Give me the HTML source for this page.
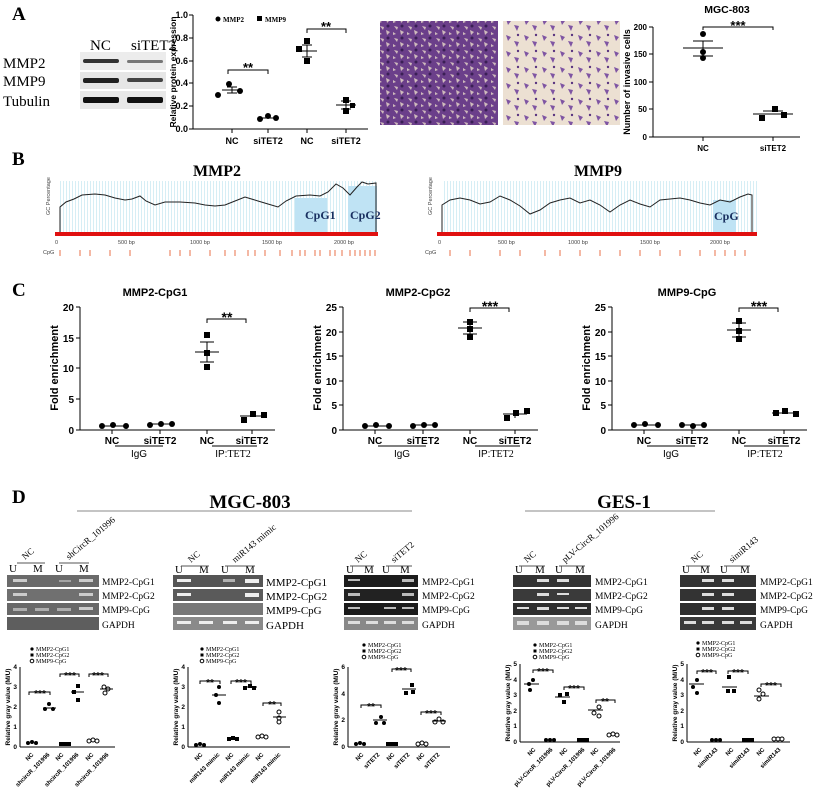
<!DOCTYPE html>
<html><head><meta charset="utf-8"><style>
html,body{margin:0;padding:0;background:#fff;}
svg{display:block;font-family:"Liberation Sans",sans-serif;}
.s{font-family:"Liberation Serif",serif;}
.b{font-weight:bold;}
</style></head><body>
<svg width="824" height="794" viewBox="0 0 824 794" xmlns="http://www.w3.org/2000/svg">
<defs>
<pattern id="cells1" width="14" height="12" patternUnits="userSpaceOnUse">
<rect width="14" height="12" fill="#6b3f8a"/>
<path d="M2 2l4 1-1 3zM8 6l4 2-3 3zM1 8l3 2-3 1z" fill="#e8d9c8" opacity=".8"/>
<circle cx="10" cy="2" r="1.5" fill="#3a1f55"/>
</pattern>
<pattern id="cells2" width="18" height="16" patternUnits="userSpaceOnUse">
<rect width="18" height="16" fill="#ece0d2"/>
<path d="M2 3l5 2-3 4zM10 9l5 1-2 5z" fill="#7f55a3"/>
<circle cx="14" cy="3" r="1.2" fill="#5a3580"/>
</pattern>
<pattern id="vl" width="3" height="10" patternUnits="userSpaceOnUse"><rect width="3" height="10" fill="#fff"/><rect width="1" height="10" fill="#d6eef5"/></pattern>
</defs>

<!-- ===== A ===== -->
<text x="12" y="20" class="s b" font-size="19">A</text>
<text x="90" y="50" class="s" font-size="15">NC</text>
<text x="131" y="50" class="s" font-size="15">siTET2</text>
<text x="3" y="68" class="s" font-size="15">MMP2</text>
<text x="3" y="86" class="s" font-size="15">MMP9</text>
<text x="3" y="106" class="s" font-size="15">Tubulin</text>
<rect x="80" y="52" width="86" height="18" fill="#ececec"/>
<rect x="80" y="72" width="86" height="17" fill="#e6e6e6"/>
<rect x="80" y="91" width="86" height="18" fill="#e8e8e8"/>
<rect x="83" y="59" width="36" height="4" rx="2" fill="#333"/><rect x="127" y="60" width="36" height="3" rx="1.5" fill="#777"/>
<rect x="83" y="78" width="36" height="5" rx="2" fill="#222"/><rect x="127" y="78" width="36" height="4" rx="2" fill="#444"/>
<rect x="83" y="97" width="36" height="6" rx="2" fill="#111"/><rect x="127" y="97" width="36" height="6" rx="2" fill="#111"/>

<!-- A chart -->
<g font-size="9" class="b">
<line x1="193" y1="15" x2="193" y2="129" stroke="#000"/>
<line x1="193" y1="129" x2="368" y2="129" stroke="#000"/>
<g stroke="#000"><line x1="189" y1="15" x2="193" y2="15"/><line x1="189" y1="38" x2="193" y2="38"/><line x1="189" y1="61" x2="193" y2="61"/><line x1="189" y1="83" x2="193" y2="83"/><line x1="189" y1="106" x2="193" y2="106"/><line x1="189" y1="129" x2="193" y2="129"/>
<line x1="232" y1="129" x2="232" y2="133"/><line x1="268" y1="129" x2="268" y2="133"/><line x1="307" y1="129" x2="307" y2="133"/><line x1="346" y1="129" x2="346" y2="133"/></g>
<g text-anchor="end"><text x="188" y="18">1.0</text><text x="188" y="41">0.8</text><text x="188" y="64">0.6</text><text x="188" y="86">0.4</text><text x="188" y="109">0.2</text><text x="188" y="132">0.0</text></g>
<g text-anchor="middle"><text x="232" y="144">NC</text><text x="268" y="144">siTET2</text><text x="307" y="144">NC</text><text x="346" y="144">siTET2</text></g>
<text transform="translate(176,72) rotate(-90)" text-anchor="middle" font-size="8.5">Relative protein expression</text>
</g>
<circle cx="218" cy="19" r="2.5"/><text x="223" y="22" class="s b" font-size="7">MMP2</text>
<rect x="257" y="16" width="5" height="5"/><text x="265" y="22" class="s b" font-size="7">MMP9</text>
<circle cx="218" cy="95" r="3"/><circle cx="229" cy="84" r="3"/><circle cx="240" cy="91" r="3"/>
<g stroke="#000" fill="none"><line x1="222" y1="90" x2="242" y2="90"/><line x1="232" y1="87" x2="232" y2="93"/><line x1="227" y1="87" x2="237" y2="87"/><line x1="227" y1="93" x2="237" y2="93"/>
<line x1="258" y1="118" x2="278" y2="118"/>
<line x1="297" y1="51" x2="317" y2="51"/><line x1="307" y1="45" x2="307" y2="57"/><line x1="302" y1="45" x2="312" y2="45"/><line x1="302" y1="57" x2="312" y2="57"/>
<line x1="336" y1="105" x2="356" y2="105"/><line x1="346" y1="101" x2="346" y2="109"/><line x1="341" y1="101" x2="351" y2="101"/><line x1="341" y1="109" x2="351" y2="109"/>
<path d="M228 74V70H268V74"/><path d="M307 33V29H346V33"/></g>
<circle cx="260" cy="119" r="3"/><circle cx="268" cy="116" r="3"/><circle cx="276" cy="118" r="3"/>
<rect x="304" y="38" width="6" height="6"/><rect x="304" y="58" width="6" height="6"/><rect x="296" y="46" width="6" height="6"/>
<rect x="343" y="97" width="6" height="6"/><rect x="343" y="108" width="6" height="6"/><rect x="350" y="103" width="5" height="5"/>
<text x="248" y="72" text-anchor="middle" font-size="13" class="b">**</text>
<text x="326" y="31" text-anchor="middle" font-size="13" class="b">**</text>

<!-- micrographs -->
<rect x="380" y="21" width="118" height="104" fill="url(#cells1)"/>
<rect x="503" y="21" width="117" height="104" fill="url(#cells2)"/>

<!-- right chart -->
<text x="727" y="13" text-anchor="middle" font-size="10.5" class="b">MGC-803</text>
<g font-size="8" class="b">
<line x1="653" y1="27" x2="653" y2="137" stroke="#000"/><line x1="653" y1="137" x2="800" y2="137" stroke="#000"/>
<g stroke="#000"><line x1="649" y1="27" x2="653" y2="27"/><line x1="649" y1="54" x2="653" y2="54"/><line x1="649" y1="82" x2="653" y2="82"/><line x1="649" y1="109" x2="653" y2="109"/><line x1="649" y1="137" x2="653" y2="137"/><line x1="703" y1="137" x2="703" y2="141"/><line x1="773" y1="137" x2="773" y2="141"/></g>
<g text-anchor="end"><text x="647" y="30">200</text><text x="647" y="57">150</text><text x="647" y="85">100</text><text x="647" y="112">50</text><text x="647" y="140">0</text></g>
<text x="703" y="151" text-anchor="middle">NC</text><text x="773" y="151" text-anchor="middle">siTET2</text>
<text transform="translate(630,82) rotate(-90)" text-anchor="middle" font-size="9">Number of invasive cells</text>
</g>
<g stroke="#000" fill="none"><path d="M703 30V27H773V30"/><line x1="683" y1="48" x2="723" y2="48"/><line x1="703" y1="41" x2="703" y2="56"/><line x1="693" y1="41" x2="713" y2="41"/><line x1="693" y1="56" x2="713" y2="56"/>
<line x1="753" y1="114" x2="793" y2="114"/><line x1="763" y1="111" x2="783" y2="111"/></g>
<text x="738" y="30" text-anchor="middle" font-size="13" class="b">***</text>
<circle cx="703" cy="34" r="3"/><circle cx="703" cy="52" r="3"/><circle cx="703" cy="58" r="3"/>
<rect x="759" y="115" width="6" height="6"/><rect x="772" y="106" width="6" height="6"/><rect x="781" y="112" width="6" height="6"/>

<!-- ===== B ===== -->
<text x="12" y="165" class="s b" font-size="19">B</text>
<text x="217" y="176" text-anchor="middle" class="s b" font-size="16">MMP2</text>
<text x="598" y="176" text-anchor="middle" class="s b" font-size="16">MMP9</text>
<g font-size="5.5" fill="#444">
<rect x="60" y="181" width="317" height="52" fill="url(#vl)"/>
<rect x="295" y="198" width="32" height="35" fill="#bfe3f4"/><rect x="348" y="186" width="29" height="47" fill="#bfe3f4"/>
<polyline fill="none" stroke="#222" stroke-width="1" points="60,233 60,207 66,202 74,199 82,195 95,194 105,195 115,198 125,200 132,199 140,196 146,201 155,205 165,202 180,202 195,203 205,205 215,206 225,205 235,201 245,197 258,201 268,204 278,207 286,201 296,196 310,195 320,196 328,192 336,184 343,188 350,195 357,187 362,182 368,184 376,183 376,233"/>
<text x="305" y="219" class="s b" font-size="12" fill="#1a3060">CpG1</text><text x="350" y="219" class="s b" font-size="12" fill="#1a3060">CpG2</text>
<rect x="55" y="232" width="323" height="4" fill="#e01010"/>
<text x="55" y="244">0</text><text x="118" y="244">500 bp</text><text x="190" y="244">1000 bp</text><text x="262" y="244">1500 bp</text><text x="334" y="244">2000 bp</text>
<text x="43" y="254">CpG</text>
<path d="M60 250v6M80 250v6M90 250v6M110 250v6M130 250v6M170 250v6M180 250v6M190 250v6M210 250v6M225 250v6M235 250v6M248 250v6M255 250v6M265 250v6M280 250v6M292 250v6M300 250v6M305 250v6M315 250v6M320 250v6M330 250v6M335 250v6M342 250v6M350 250v6M355 250v6M360 250v6M365 250v6M370 250v6M375 250v6" stroke="#e8704a" stroke-width="1"/>
<text transform="translate(50,215) rotate(-90)" font-size="5.5">GC Percentage</text>

<rect x="442" y="181" width="316" height="52" fill="url(#vl)"/>
<rect x="713" y="200" width="23" height="33" fill="#bfe3f4"/>
<polyline fill="none" stroke="#222" stroke-width="1" points="442,233 442,205 450,200 460,198 470,200 480,204 490,202 500,196 510,200 520,206 530,214 540,210 550,203 560,200 570,198 580,203 590,200 600,205 610,212 620,205 630,200 640,204 650,207 660,200 670,199 680,198 690,200 700,203 710,205 720,200 730,202 740,197 748,194 752,195 752,233"/>
<text x="714" y="220" class="s b" font-size="12" fill="#1a3060">CpG</text>
<rect x="437" y="232" width="320" height="4" fill="#e01010"/>
<text x="438" y="244">0</text><text x="498" y="244">500 bp</text><text x="568" y="244">1000 bp</text><text x="640" y="244">1500 bp</text><text x="710" y="244">2000 bp</text>
<text x="425" y="254">CpG</text>
<path d="M450 250v6M470 250v6M500 250v6M520 250v6M545 250v6M560 250v6M580 250v6M600 250v6M620 250v6M640 250v6M660 250v6M680 250v6M700 250v6M715 250v6M725 250v6M735 250v6M745 250v6" stroke="#e8704a" stroke-width="1"/>
<text transform="translate(432,215) rotate(-90)" font-size="5.5">GC Percentage</text>
</g>

<!-- ===== C ===== -->
<text x="12" y="296" class="s b" font-size="19">C</text>
<g font-size="10" class="b">
<text x="155" y="296" text-anchor="middle" font-size="11">MMP2-CpG1</text>
<line x1="80" y1="307" x2="80" y2="430" stroke="#000"/><line x1="80" y1="430" x2="275" y2="430" stroke="#000"/>
<g stroke="#000"><line x1="76" y1="307" x2="80" y2="307"/><line x1="76" y1="338" x2="80" y2="338"/><line x1="76" y1="368" x2="80" y2="368"/><line x1="76" y1="399" x2="80" y2="399"/><line x1="76" y1="430" x2="80" y2="430"/>
<line x1="112" y1="430" x2="112" y2="434"/><line x1="160" y1="430" x2="160" y2="434"/><line x1="207" y1="430" x2="207" y2="434"/><line x1="252" y1="430" x2="252" y2="434"/>
<line x1="115" y1="446" x2="163" y2="446"/><line x1="212" y1="446" x2="257" y2="446"/></g>
<g text-anchor="end"><text x="74" y="311">20</text><text x="74" y="342">15</text><text x="74" y="372">10</text><text x="74" y="403">5</text><text x="74" y="434">0</text></g>
<g text-anchor="middle"><text x="112" y="444">NC</text><text x="160" y="444">siTET2</text><text x="207" y="444">NC</text><text x="252" y="444">siTET2</text></g>
<text x="139" y="457" text-anchor="middle" font-weight="normal">IgG</text><text x="233" y="457" text-anchor="middle" font-weight="normal">IP:<tspan class="s">TET2</tspan></text>
<text transform="translate(58,368) rotate(-90)" text-anchor="middle" font-size="11">Fold enrichment</text>
<g stroke="#000" fill="none"><line x1="100" y1="426" x2="124" y2="426"/><line x1="148" y1="424" x2="172" y2="424"/><line x1="195" y1="352" x2="219" y2="352"/><line x1="207" y1="342" x2="207" y2="362"/><line x1="200" y1="342" x2="214" y2="342"/><line x1="200" y1="362" x2="214" y2="362"/><line x1="240" y1="416" x2="264" y2="416"/><path d="M207 323V319H246V323"/></g>
<circle cx="102" cy="426" r="3"/><circle cx="113" cy="425" r="3"/><circle cx="126" cy="426" r="3"/><circle cx="150" cy="425" r="3"/><circle cx="161" cy="424" r="3"/><circle cx="172" cy="424" r="3"/>
<rect x="204" y="332" width="6" height="6"/><rect x="204" y="350" width="6" height="6"/><rect x="204" y="364" width="6" height="6"/><rect x="241" y="417" width="6" height="6"/><rect x="250" y="411" width="6" height="6"/><rect x="261" y="412" width="6" height="6"/>
<text x="227" y="322" text-anchor="middle" font-size="14">**</text>
</g>
<g transform="translate(263,0)" font-size="10" class="b">
<text x="155" y="296" text-anchor="middle" font-size="11">MMP2-CpG2</text>
<line x1="80" y1="307" x2="80" y2="430" stroke="#000"/><line x1="80" y1="430" x2="275" y2="430" stroke="#000"/>
<g stroke="#000"><line x1="76" y1="307" x2="80" y2="307"/><line x1="76" y1="332" x2="80" y2="332"/><line x1="76" y1="356" x2="80" y2="356"/><line x1="76" y1="381" x2="80" y2="381"/><line x1="76" y1="405" x2="80" y2="405"/><line x1="76" y1="430" x2="80" y2="430"/>
<line x1="112" y1="430" x2="112" y2="434"/><line x1="160" y1="430" x2="160" y2="434"/><line x1="207" y1="430" x2="207" y2="434"/><line x1="252" y1="430" x2="252" y2="434"/>
<line x1="115" y1="446" x2="163" y2="446"/><line x1="212" y1="446" x2="257" y2="446"/></g>
<g text-anchor="end"><text x="74" y="311">25</text><text x="74" y="336">20</text><text x="74" y="360">15</text><text x="74" y="385">10</text><text x="74" y="409">5</text><text x="74" y="434">0</text></g>
<g text-anchor="middle"><text x="112" y="444">NC</text><text x="160" y="444">siTET2</text><text x="207" y="444">NC</text><text x="252" y="444">siTET2</text></g>
<text x="139" y="457" text-anchor="middle" font-weight="normal">IgG</text><text x="233" y="457" text-anchor="middle" font-weight="normal">IP:<tspan class="s">TET2</tspan></text>
<text transform="translate(58,368) rotate(-90)" text-anchor="middle" font-size="11">Fold enrichment</text>
<g stroke="#000" fill="none"><line x1="100" y1="426" x2="124" y2="426"/><line x1="148" y1="425" x2="172" y2="425"/><line x1="195" y1="328" x2="219" y2="328"/><line x1="207" y1="322" x2="207" y2="334"/><line x1="200" y1="322" x2="214" y2="322"/><line x1="200" y1="334" x2="214" y2="334"/><line x1="240" y1="414" x2="264" y2="414"/><line x1="252" y1="410" x2="252" y2="418"/><path d="M207 312V308H246V312"/></g>
<circle cx="102" cy="426" r="3"/><circle cx="113" cy="425" r="3"/><circle cx="126" cy="426" r="3"/><circle cx="150" cy="426" r="3"/><circle cx="161" cy="425" r="3"/><circle cx="172" cy="425" r="3"/>
<rect x="204" y="319" width="6" height="6"/><rect x="204" y="326" width="6" height="6"/><rect x="204" y="334" width="6" height="6"/><rect x="241" y="415" width="6" height="6"/><rect x="250" y="410" width="6" height="6"/><rect x="261" y="408" width="6" height="6"/>
<text x="227" y="311" text-anchor="middle" font-size="14">***</text>
</g>
<g transform="translate(532,0)" font-size="10" class="b">
<text x="155" y="296" text-anchor="middle" font-size="11">MMP9-CpG</text>
<line x1="80" y1="307" x2="80" y2="430" stroke="#000"/><line x1="80" y1="430" x2="275" y2="430" stroke="#000"/>
<g stroke="#000"><line x1="76" y1="307" x2="80" y2="307"/><line x1="76" y1="332" x2="80" y2="332"/><line x1="76" y1="356" x2="80" y2="356"/><line x1="76" y1="381" x2="80" y2="381"/><line x1="76" y1="405" x2="80" y2="405"/><line x1="76" y1="430" x2="80" y2="430"/>
<line x1="112" y1="430" x2="112" y2="434"/><line x1="160" y1="430" x2="160" y2="434"/><line x1="207" y1="430" x2="207" y2="434"/><line x1="252" y1="430" x2="252" y2="434"/>
<line x1="115" y1="446" x2="163" y2="446"/><line x1="212" y1="446" x2="257" y2="446"/></g>
<g text-anchor="end"><text x="74" y="311">25</text><text x="74" y="336">20</text><text x="74" y="360">15</text><text x="74" y="385">10</text><text x="74" y="409">5</text><text x="74" y="434">0</text></g>
<g text-anchor="middle"><text x="112" y="444">NC</text><text x="160" y="444">siTET2</text><text x="207" y="444">NC</text><text x="252" y="444">siTET2</text></g>
<text x="139" y="457" text-anchor="middle" font-weight="normal">IgG</text><text x="233" y="457" text-anchor="middle" font-weight="normal">IP:<tspan class="s">TET2</tspan></text>
<text transform="translate(58,368) rotate(-90)" text-anchor="middle" font-size="11">Fold enrichment</text>
<g stroke="#000" fill="none"><line x1="100" y1="425" x2="124" y2="425"/><line x1="148" y1="425" x2="172" y2="425"/><line x1="195" y1="330" x2="219" y2="330"/><line x1="207" y1="323" x2="207" y2="337"/><line x1="200" y1="323" x2="214" y2="323"/><line x1="200" y1="337" x2="214" y2="337"/><line x1="240" y1="413" x2="264" y2="413"/><path d="M207 312V308H246V312"/></g>
<circle cx="102" cy="425" r="3"/><circle cx="113" cy="424" r="3"/><circle cx="126" cy="425" r="3"/><circle cx="150" cy="425" r="3"/><circle cx="161" cy="426" r="3"/><circle cx="172" cy="425" r="3"/>
<rect x="204" y="318" width="6" height="6"/><rect x="204" y="328" width="6" height="6"/><rect x="204" y="336" width="6" height="6"/><rect x="241" y="410" width="6" height="6"/><rect x="250" y="408" width="6" height="6"/><rect x="261" y="411" width="6" height="6"/>
<text x="227" y="311" text-anchor="middle" font-size="14">***</text>
</g>

<!-- ===== D ===== -->
<text x="12" y="503" class="s b" font-size="19">D</text>
<text x="250" y="508" text-anchor="middle" class="s b" font-size="19">MGC-803</text>
<line x1="77" y1="511" x2="412" y2="511" stroke="#888"/>
<text x="624" y="508" text-anchor="middle" class="s b" font-size="19">GES-1</text>
<line x1="525" y1="511" x2="715" y2="511" stroke="#888"/>

<g class="s" font-size="10">
<g transform="translate(7,0)">
<rect x="0" y="575" width="92" height="12" fill="#6a6a6a"/><rect x="0" y="589" width="92" height="12" fill="#707070"/><rect x="0" y="603" width="92" height="12" fill="#686868"/><rect x="0" y="617" width="92" height="13" fill="#5e5e5e"/>
<g fill="#ccc"><rect x="6" y="579" width="14" height="3"/><rect x="52" y="580" width="12" height="2" opacity=".6"/><rect x="72" y="579" width="14" height="3"/><rect x="6" y="593" width="14" height="3"/><rect x="72" y="593" width="14" height="3"/><rect x="6" y="608" width="14" height="3" opacity=".7"/><rect x="28" y="608" width="14" height="3" opacity=".7"/><rect x="50" y="608" width="14" height="3" opacity=".7"/><rect x="72" y="607" width="14" height="3"/></g>
<text x="2" y="572" font-size="11">U</text><text x="26" y="572" font-size="11">M</text><text x="48" y="572" font-size="11">U</text><text x="72" y="572" font-size="11">M</text>
<path d="M10 563H38M52 563H82" stroke="#555"/>
<text transform="translate(18,560) rotate(-40)" font-size="9">NC</text>
<text transform="translate(62,560) rotate(-40)" font-size="9">shCircR_101996</text>
<text x="95" y="585" font-size="9.5">MMP2-CpG1</text><text x="95" y="599" font-size="9.5">MMP2-CpG2</text><text x="95" y="613" font-size="9.5">MMP9-CpG</text><text x="95" y="628" font-size="9.5">GAPDH</text>
</g>
<g transform="translate(173,0)">
<rect x="0" y="575" width="90" height="12" fill="#555"/><rect x="0" y="589" width="90" height="12" fill="#5a5a5a"/><rect x="0" y="603" width="90" height="12" fill="#777"/><rect x="0" y="617" width="90" height="13" fill="#8a8a8a"/>
<g fill="#eee"><rect x="4" y="579" width="14" height="3"/><rect x="50" y="579" width="12" height="3" opacity=".6"/><rect x="72" y="579" width="14" height="4"/><rect x="4" y="593" width="14" height="3"/><rect x="72" y="593" width="14" height="4"/><rect x="4" y="621" width="14" height="3"/><rect x="26" y="621" width="14" height="3"/><rect x="50" y="621" width="14" height="3"/><rect x="72" y="621" width="14" height="3"/></g>
<text x="2" y="573" font-size="11">U</text><text x="26" y="573" font-size="11">M</text><text x="48" y="573" font-size="11">U</text><text x="72" y="573" font-size="11">M</text>
<path d="M8 566H36M52 566H82" stroke="#555"/>
<text transform="translate(18,563) rotate(-40)" font-size="9">NC</text>
<text transform="translate(62,563) rotate(-40)" font-size="9">miR143 mimic</text>
<text x="93" y="586" font-size="11">MMP2-CpG1</text><text x="93" y="600" font-size="11">MMP2-CpG2</text><text x="93" y="614" font-size="11">MMP9-CpG</text><text x="93" y="629" font-size="11">GAPDH</text>
</g>
<g transform="translate(344,0)">
<rect x="0" y="575" width="74" height="12" fill="#1c1c1c"/><rect x="0" y="589" width="74" height="12" fill="#222"/><rect x="0" y="603" width="74" height="12" fill="#1a1a1a"/><rect x="0" y="617" width="74" height="13" fill="#888"/>
<g fill="#bbb"><rect x="4" y="579" width="12" height="2"/><rect x="58" y="579" width="12" height="3"/><rect x="4" y="593" width="12" height="3"/><rect x="58" y="593" width="12" height="3"/><rect x="4" y="607" width="12" height="2"/><rect x="40" y="607" width="12" height="2"/><rect x="58" y="607" width="12" height="2"/><g fill="#ddd"><rect x="4" y="621" width="12" height="3"/><rect x="22" y="621" width="12" height="3"/><rect x="40" y="621" width="12" height="3"/><rect x="58" y="621" width="12" height="3"/></g></g>
<text x="2" y="573" font-size="11">U</text><text x="20" y="573" font-size="11">M</text><text x="38" y="573" font-size="11">U</text><text x="56" y="573" font-size="11">M</text>
<path d="M6 566H30M42 566H68" stroke="#555"/>
<text transform="translate(14,563) rotate(-40)" font-size="9">NC</text>
<text transform="translate(50,563) rotate(-40)" font-size="9">siTET2</text>
<text x="78" y="585" font-size="9.5">MMP2-CpG1</text><text x="78" y="599" font-size="9.5">MMP2-CpG2</text><text x="78" y="613" font-size="9.5">MMP9-CpG</text><text x="78" y="628" font-size="9.5">GAPDH</text>
</g>
<g transform="translate(513,0)">
<rect x="0" y="575" width="78" height="12" fill="#333"/><rect x="0" y="589" width="78" height="12" fill="#3a3a3a"/><rect x="0" y="603" width="78" height="12" fill="#2e2e2e"/><rect x="0" y="617" width="78" height="13" fill="#999"/>
<g fill="#ddd"><rect x="24" y="579" width="12" height="3"/><rect x="44" y="579" width="12" height="3"/><rect x="24" y="593" width="12" height="3"/><rect x="44" y="593" width="12" height="2"/><rect x="4" y="607" width="12" height="2"/><rect x="24" y="607" width="12" height="3"/><rect x="44" y="607" width="12" height="2"/><rect x="62" y="607" width="12" height="2"/><rect x="4" y="621" width="12" height="4"/><rect x="24" y="621" width="12" height="4"/><rect x="44" y="621" width="12" height="4"/><rect x="62" y="621" width="12" height="4"/></g>
<text x="2" y="573" font-size="11">U</text><text x="22" y="573" font-size="11">M</text><text x="42" y="573" font-size="11">U</text><text x="62" y="573" font-size="11">M</text>
<path d="M6 566H32M46 566H72" stroke="#555"/>
<text transform="translate(14,563) rotate(-40)" font-size="9">NC</text>
<text transform="translate(52,563) rotate(-40)" font-size="9">pLV-CircR_101996</text>
<text x="82" y="585" font-size="9.5">MMP2-CpG1</text><text x="82" y="599" font-size="9.5">MMP2-CpG2</text><text x="82" y="613" font-size="9.5">MMP9-CpG</text><text x="82" y="628" font-size="9.5">GAPDH</text>
</g>
<g transform="translate(680,0)">
<rect x="0" y="575" width="76" height="12" fill="#333"/><rect x="0" y="589" width="76" height="12" fill="#333"/><rect x="0" y="603" width="76" height="12" fill="#2e2e2e"/><rect x="0" y="617" width="76" height="13" fill="#3a3a3a"/>
<g fill="#ddd"><rect x="22" y="579" width="12" height="3"/><rect x="42" y="579" width="12" height="3"/><rect x="22" y="593" width="12" height="3"/><rect x="42" y="593" width="12" height="3"/><rect x="22" y="607" width="12" height="3"/><rect x="42" y="607" width="12" height="3"/><rect x="4" y="621" width="12" height="3"/><rect x="22" y="621" width="12" height="3"/><rect x="42" y="621" width="12" height="3"/><rect x="60" y="621" width="12" height="3"/></g>
<text x="2" y="573" font-size="11">U</text><text x="20" y="573" font-size="11">M</text><text x="40" y="573" font-size="11">U</text><text x="60" y="573" font-size="11">M</text>
<path d="M6 566H30M44 566H70" stroke="#555"/>
<text transform="translate(14,563) rotate(-40)" font-size="9">NC</text>
<text transform="translate(52,563) rotate(-40)" font-size="9">simiR143</text>
<text x="80" y="585" font-size="9.5">MMP2-CpG1</text><text x="80" y="599" font-size="9.5">MMP2-CpG2</text><text x="80" y="613" font-size="9.5">MMP9-CpG</text><text x="80" y="628" font-size="9.5">GAPDH</text>
</g>
</g>

<g font-size="6.5">
<g>
<g class="s" font-size="6"><circle cx="32" cy="649" r="1.6"/><text x="36" y="651">MMP2-CpG1</text><rect x="30.5" y="653.5" width="3" height="3"/><text x="36" y="657">MMP2-CpG2</text><circle cx="32" cy="661" r="1.8" fill="none" stroke="#000"/><text x="36" y="663">MMP9-CpG</text></g>
<line x1="20" y1="667" x2="20" y2="747" stroke="#000"/><line x1="20" y1="747" x2="115" y2="747" stroke="#000"/>
<g class="b" text-anchor="end"><text x="17" y="669">4</text><text x="17" y="689">3</text><text x="17" y="709">2</text><text x="17" y="729">1</text><text x="17" y="749">0</text></g>
<text transform="translate(10,707) rotate(-90)" text-anchor="middle" class="b">Relative gray value (M/U)</text>
<g class="b" font-size="6"><text transform="translate(34,755) rotate(-45)" text-anchor="end">NC</text><text transform="translate(50,755) rotate(-45)" text-anchor="end">shcircR_101996</text><text transform="translate(64,755) rotate(-45)" text-anchor="end">NC</text><text transform="translate(79,755) rotate(-45)" text-anchor="end">shcircR_101996</text><text transform="translate(94,755) rotate(-45)" text-anchor="end">NC</text><text transform="translate(109,755) rotate(-45)" text-anchor="end">shcircR_101996</text></g>
<circle cx="28" cy="743" r="2"/><circle cx="32" cy="742" r="2"/><circle cx="36" cy="743" r="2"/><circle cx="45" cy="709" r="2"/><circle cx="49" cy="704" r="2"/><circle cx="53" cy="709" r="2"/>
<rect x="59" y="742" width="4" height="4"/><rect x="63" y="742" width="4" height="4"/><rect x="67" y="742" width="4" height="4"/><rect x="76" y="684" width="4" height="4"/><rect x="76" y="698" width="4" height="4"/><rect x="72" y="690" width="4" height="4"/>
<g fill="none" stroke="#000"><circle cx="89" cy="741" r="2"/><circle cx="93" cy="740" r="2"/><circle cx="97" cy="741" r="2"/><circle cx="104" cy="687" r="2"/><circle cx="108" cy="689" r="2"/><circle cx="105" cy="693" r="2"/>
<path d="M29 695V692H50V695"/><path d="M60 677V674H79V677"/><path d="M89 677V674H108V677"/><line x1="43" y1="708" x2="56" y2="708"/><line x1="71" y1="692" x2="84" y2="692"/><line x1="100" y1="689" x2="113" y2="689"/></g>
<g class="b" font-size="10" text-anchor="middle"><text x="40" y="697">***</text><text x="70" y="679">***</text><text x="98" y="679">***</text></g>
</g>
<g>
<g class="s" font-size="6"><circle cx="202" cy="649" r="1.6"/><text x="206" y="651">MMP2-CpG1</text><rect x="200.5" y="653.5" width="3" height="3"/><text x="206" y="657">MMP2-CpG2</text><circle cx="202" cy="661" r="1.8" fill="none" stroke="#000"/><text x="206" y="663">MMP9-CpG</text></g>
<line x1="188" y1="667" x2="188" y2="747" stroke="#000"/><line x1="188" y1="747" x2="290" y2="747" stroke="#000"/>
<g class="b" text-anchor="end"><text x="185" y="669">4</text><text x="185" y="689">3</text><text x="185" y="709">2</text><text x="185" y="729">1</text><text x="185" y="749">0</text></g>
<text transform="translate(178,707) rotate(-90)" text-anchor="middle" class="b">Relative gray value (M/U)</text>
<g class="b" font-size="6"><text transform="translate(203,755) rotate(-45)" text-anchor="end">NC</text><text transform="translate(220,755) rotate(-45)" text-anchor="end">miR143 mimic</text><text transform="translate(234,755) rotate(-45)" text-anchor="end">NC</text><text transform="translate(250,755) rotate(-45)" text-anchor="end">miR143 mimic</text><text transform="translate(264,755) rotate(-45)" text-anchor="end">NC</text><text transform="translate(281,755) rotate(-45)" text-anchor="end">miR143 mimic</text></g>
<circle cx="196" cy="745" r="2"/><circle cx="200" cy="744" r="2"/><circle cx="204" cy="745" r="2"/><circle cx="219" cy="687" r="2"/><circle cx="219" cy="703" r="2"/><circle cx="216" cy="695" r="2"/>
<rect x="227" y="737" width="4" height="4"/><rect x="231" y="736" width="4" height="4"/><rect x="235" y="737" width="4" height="4"/><rect x="243" y="686" width="4" height="4"/><rect x="248" y="684" width="4" height="4"/><rect x="252" y="686" width="4" height="4"/>
<g fill="none" stroke="#000"><circle cx="258" cy="737" r="2"/><circle cx="262" cy="736" r="2"/><circle cx="266" cy="737" r="2"/><circle cx="279" cy="712" r="2"/><circle cx="279" cy="718" r="2"/><circle cx="279" cy="722" r="2"/>
<path d="M200 684V681H220V684"/><path d="M231 684V681H251V684"/><path d="M263 706V703H281V706"/><line x1="212" y1="695" x2="226" y2="695"/><line x1="243" y1="687" x2="257" y2="687"/><line x1="273" y1="717" x2="286" y2="717"/></g>
<g class="b" font-size="10" text-anchor="middle"><text x="210" y="686">**</text><text x="241" y="686">***</text><text x="272" y="708">**</text></g>
</g>
<g>
<g class="s" font-size="6"><circle cx="364" cy="645" r="1.6"/><text x="368" y="647">MMP2-CpG1</text><rect x="362.5" y="649.5" width="3" height="3"/><text x="368" y="653">MMP2-CpG2</text><circle cx="364" cy="657" r="1.8" fill="none" stroke="#000"/><text x="368" y="659">MMP9-CpG</text></g>
<line x1="348" y1="667" x2="348" y2="747" stroke="#000"/><line x1="348" y1="747" x2="450" y2="747" stroke="#000"/>
<g class="b" text-anchor="end"><text x="345" y="669">6</text><text x="345" y="696">4</text><text x="345" y="722">2</text><text x="345" y="749">0</text></g>
<text transform="translate(338,707) rotate(-90)" text-anchor="middle" class="b">Relative gray value (M/U)</text>
<g class="b" font-size="6"><text transform="translate(364,755) rotate(-45)" text-anchor="end">NC</text><text transform="translate(380,755) rotate(-45)" text-anchor="end">siTET2</text><text transform="translate(395,755) rotate(-45)" text-anchor="end">NC</text><text transform="translate(410,755) rotate(-45)" text-anchor="end">siTET2</text><text transform="translate(425,755) rotate(-45)" text-anchor="end">NC</text><text transform="translate(440,755) rotate(-45)" text-anchor="end">siTET2</text></g>
<circle cx="356" cy="744" r="2"/><circle cx="360" cy="743" r="2"/><circle cx="364" cy="744" r="2"/><circle cx="376" cy="723" r="2"/><circle cx="381" cy="717" r="2"/><circle cx="384" cy="723" r="2"/>
<rect x="386" y="742" width="4" height="4"/><rect x="390" y="742" width="4" height="4"/><rect x="394" y="742" width="4" height="4"/><rect x="410" y="683" width="4" height="4"/><rect x="404" y="691" width="4" height="4"/><rect x="411" y="690" width="4" height="4"/>
<g fill="none" stroke="#000"><circle cx="418" cy="744" r="2"/><circle cx="422" cy="743" r="2"/><circle cx="426" cy="744" r="2"/><circle cx="435" cy="722" r="2"/><circle cx="439" cy="719" r="2"/><circle cx="443" cy="722" r="2"/>
<path d="M361 708V705H381V708"/><path d="M392 672V669H411V672"/><path d="M421 715V712H441V715"/><line x1="373" y1="720" x2="387" y2="720"/><line x1="402" y1="689" x2="416" y2="689"/><line x1="432" y1="721" x2="446" y2="721"/></g>
<g class="b" font-size="10" text-anchor="middle"><text x="371" y="710">**</text><text x="401" y="674">***</text><text x="431" y="717">***</text></g>
</g>
<g>
<g class="s" font-size="6"><circle cx="535" cy="645" r="1.6"/><text x="539" y="647">MMP2-CpG1</text><rect x="533.5" y="649.5" width="3" height="3"/><text x="539" y="653">MMP2-CpG2</text><circle cx="535" cy="657" r="1.8" fill="none" stroke="#000"/><text x="539" y="659">MMP9-CpG</text></g>
<line x1="520" y1="664" x2="520" y2="742" stroke="#000"/><line x1="520" y1="742" x2="620" y2="742" stroke="#000"/>
<g class="b" text-anchor="end"><text x="517" y="666">5</text><text x="517" y="682">4</text><text x="517" y="697">3</text><text x="517" y="713">2</text><text x="517" y="728">1</text><text x="517" y="744">0</text></g>
<text transform="translate(510,703) rotate(-90)" text-anchor="middle" class="b">Relative gray value (M/U)</text>
<g class="b" font-size="6"><text transform="translate(536,750) rotate(-45)" text-anchor="end">NC</text><text transform="translate(553,750) rotate(-45)" text-anchor="end">pLV-CircR_101996</text><text transform="translate(568,750) rotate(-45)" text-anchor="end">NC</text><text transform="translate(585,750) rotate(-45)" text-anchor="end">pLV-CircR_101996</text><text transform="translate(599,750) rotate(-45)" text-anchor="end">NC</text><text transform="translate(616,750) rotate(-45)" text-anchor="end">pLV-CircR_101996</text></g>
<circle cx="529" cy="684" r="2"/><circle cx="533" cy="680" r="2"/><circle cx="530" cy="690" r="2"/><circle cx="546" cy="740" r="2"/><circle cx="550" cy="740" r="2"/><circle cx="554" cy="740" r="2"/>
<rect x="558" y="693" width="4" height="4"/><rect x="562" y="700" width="4" height="4"/><rect x="565" y="692" width="4" height="4"/><rect x="577" y="738" width="4" height="4"/><rect x="581" y="738" width="4" height="4"/><rect x="585" y="738" width="4" height="4"/>
<g fill="none" stroke="#000"><circle cx="599" cy="707" r="2"/><circle cx="594" cy="713" r="2"/><circle cx="599" cy="716" r="2"/><circle cx="609" cy="735" r="2"/><circle cx="613" cy="734" r="2"/><circle cx="617" cy="735" r="2"/>
<path d="M533 673V670H553V673"/><path d="M564 690V687H584V690"/><path d="M596 703V700H615V703"/><line x1="524" y1="684" x2="539" y2="684"/><line x1="555" y1="697" x2="570" y2="697"/><line x1="588" y1="710" x2="603" y2="710"/></g>
<g class="b" font-size="10" text-anchor="middle"><text x="543" y="675">***</text><text x="574" y="692">***</text><text x="605" y="705">**</text></g>
</g>
<g>
<g class="s" font-size="6"><circle cx="698" cy="643" r="1.6"/><text x="702" y="645">MMP2-CpG1</text><rect x="696.5" y="647.5" width="3" height="3"/><text x="702" y="651">MMP2-CpG2</text><circle cx="698" cy="655" r="1.8" fill="none" stroke="#000"/><text x="702" y="657">MMP9-CpG</text></g>
<line x1="687" y1="664" x2="687" y2="742" stroke="#000"/><line x1="687" y1="742" x2="790" y2="742" stroke="#000"/>
<g class="b" text-anchor="end"><text x="684" y="666">5</text><text x="684" y="682">4</text><text x="684" y="697">3</text><text x="684" y="713">2</text><text x="684" y="728">1</text><text x="684" y="744">0</text></g>
<text transform="translate(677,703) rotate(-90)" text-anchor="middle" class="b">Relative gray value (M/U)</text>
<g class="b" font-size="6"><text transform="translate(702,750) rotate(-45)" text-anchor="end">NC</text><text transform="translate(718,750) rotate(-45)" text-anchor="end">simiR143</text><text transform="translate(734,750) rotate(-45)" text-anchor="end">NC</text><text transform="translate(750,750) rotate(-45)" text-anchor="end">simiR143</text><text transform="translate(765,750) rotate(-45)" text-anchor="end">NC</text><text transform="translate(781,750) rotate(-45)" text-anchor="end">simiR143</text></g>
<circle cx="697" cy="680" r="2"/><circle cx="693" cy="687" r="2"/><circle cx="697" cy="693" r="2"/><circle cx="712" cy="740" r="2"/><circle cx="716" cy="740" r="2"/><circle cx="720" cy="740" r="2"/>
<rect x="727" y="675" width="4" height="4"/><rect x="726" y="689" width="4" height="4"/><rect x="732" y="689" width="4" height="4"/><rect x="742" y="738" width="4" height="4"/><rect x="746" y="738" width="4" height="4"/><rect x="750" y="738" width="4" height="4"/>
<g fill="none" stroke="#000"><circle cx="759" cy="690" r="2"/><circle cx="763" cy="694" r="2"/><circle cx="759" cy="699" r="2"/><circle cx="774" cy="739" r="2"/><circle cx="778" cy="739" r="2"/><circle cx="782" cy="739" r="2"/>
<path d="M697 674V671H716V674"/><path d="M728 674V671H748V674"/><path d="M761 687V684H781V687"/><line x1="689" y1="684" x2="704" y2="684"/><line x1="722" y1="687" x2="737" y2="687"/><line x1="754" y1="696" x2="769" y2="696"/></g>
<g class="b" font-size="10" text-anchor="middle"><text x="707" y="676">***</text><text x="738" y="676">***</text><text x="771" y="689">***</text></g>
</g>
</g>
</svg>
</body></html>
